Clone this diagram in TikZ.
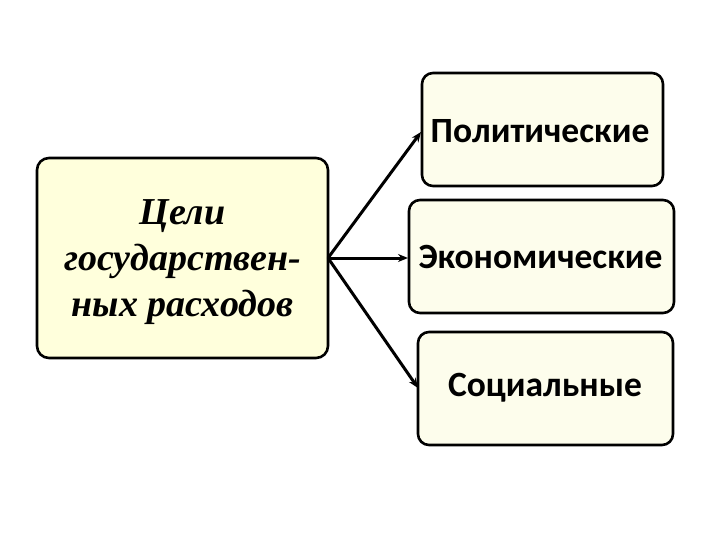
\documentclass[tikz,border=0pt]{standalone}
\usepackage{fontspec}
\setmainfont{Liberation Serif}
\newfontfamily\carl{Carlito}
\usetikzlibrary{arrows.meta}
\definecolor{leftfill}{HTML}{FFFFDC}
\definecolor{rightfill}{HTML}{FDFDEC}
\tikzset{
  goalbox/.style={draw=black, line width=2.6pt, rounded corners=12pt, fill=leftfill},
  kindbox/.style={draw=black, line width=2.6pt, rounded corners=11pt, fill=rightfill},
  link/.style={line width=3pt, -{Stealth[length=10pt,width=8pt]}},
  kindtext/.style={font=\carl\fontsize{35.5}{38}\selectfont\bfseries},
}
\begin{document}
\begin{tikzpicture}[x=1pt,y=-1pt]
\useasboundingbox (0,0) rectangle (720,540);
\draw[goalbox] (37,158) rectangle (328,358);
\node (goal) at (182.5,262) [align=center, font=\fontsize{38}{46}\selectfont\bfseries\itshape, inner sep=0pt] {Цели\\государствен-\\ных расходов};
\coordinate (src) at (328,258);
\draw[kindbox] (422,73) rectangle (663,186);
\node (pol) at (540,131) [kindtext] {Политические};
\draw[kindbox] (409,200) rectangle (674,313);
\node (eco) at (540.5,257) [kindtext] {Экономические};
\draw[kindbox] (418,332) rectangle (673,445);
\node (soc) at (545,388) [kindtext] {Социальные};
\coordinate (tpol) at (421,132);
\coordinate (teco) at (408,258);
\coordinate (tsoc) at (418,388);
\draw[link] (src) -- (tpol);
\draw[link] (src) -- (teco);
\draw[link] (src) -- (tsoc);
\end{tikzpicture}
\end{document}
